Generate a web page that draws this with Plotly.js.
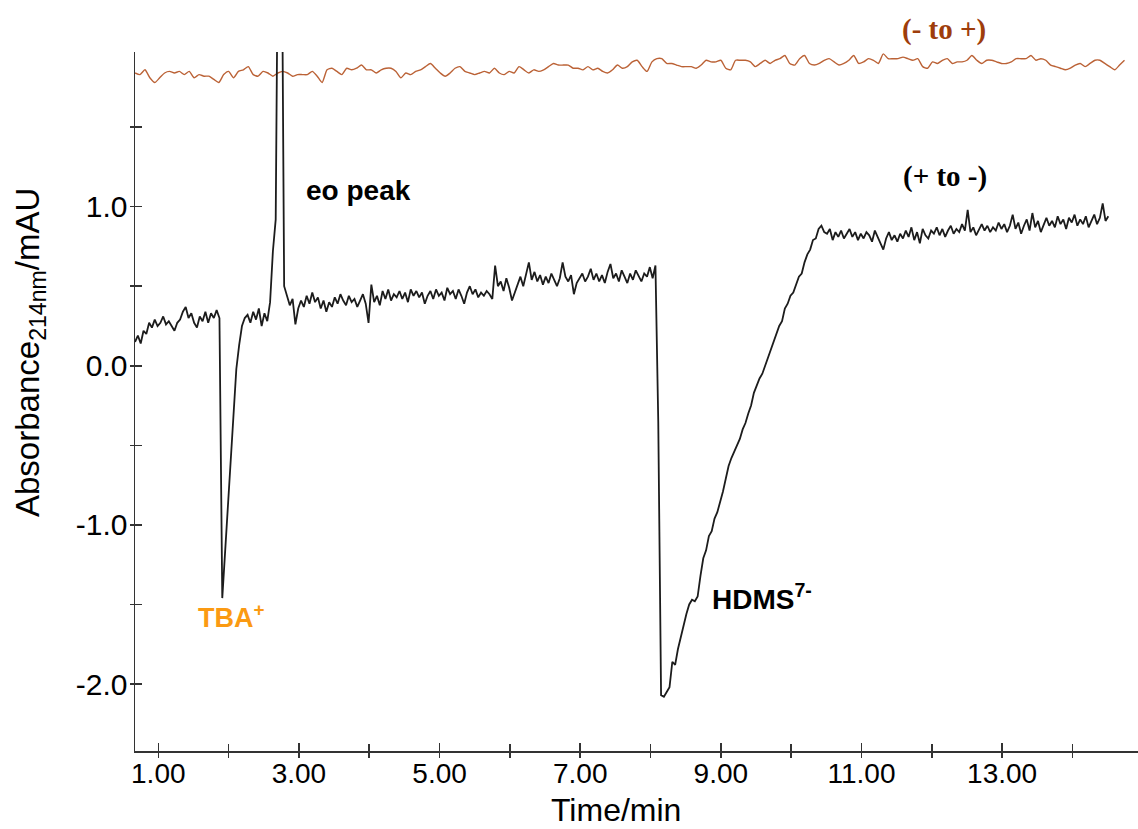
<!DOCTYPE html>
<html><head><meta charset="utf-8">
<script src="https://cdn.plot.ly/plotly-3.0.1.min.js"></script>
<style>html,body{margin:0;padding:0;background:#fff}#chart{width:1138px;height:829px}</style>
</head><body><div id="chart"></div>
<script>
// (+ to -) trace, sampled every 0.04 min from 0.67 min
const blackStart = 0.67, blackStep = 0.04;
const blackAbs = [
0.15,0.19,0.14,0.22,0.20,0.27,0.24,0.29,0.25,0.27,
0.31,0.26,0.28,0.25,0.22,0.27,0.29,0.34,0.37,0.30,
0.33,0.27,0.24,0.31,0.28,0.34,0.27,0.33,0.30,0.35,
0.30,-1.46,-1.17,-0.93,-0.63,-0.30,-0.02,0.13,0.25,0.30,
0.32,0.27,0.34,0.29,0.36,0.25,0.33,0.28,0.40,0.72,
0.92,3.20,3.20,0.50,0.44,0.38,0.42,0.26,0.36,0.41,
0.37,0.44,0.39,0.46,0.40,0.43,0.36,0.41,0.34,0.40,
0.37,0.43,0.39,0.45,0.41,0.38,0.44,0.40,0.42,0.37,
0.41,0.45,0.39,0.27,0.51,0.40,0.44,0.38,0.47,0.42,
0.48,0.41,0.45,0.43,0.47,0.42,0.46,0.40,0.48,0.44,
0.47,0.43,0.46,0.39,0.44,0.47,0.42,0.48,0.44,0.46,
0.41,0.49,0.45,0.47,0.42,0.48,0.44,0.39,0.46,0.50,
0.45,0.48,0.43,0.46,0.44,0.47,0.45,0.42,0.63,0.50,
0.53,0.47,0.55,0.49,0.41,0.46,0.52,0.56,0.50,0.58,
0.65,0.54,0.59,0.53,0.57,0.51,0.56,0.52,0.58,0.54,
0.50,0.55,0.65,0.56,0.53,0.57,0.45,0.52,0.55,0.58,
0.53,0.56,0.61,0.54,0.58,0.53,0.57,0.52,0.59,0.64,
0.55,0.58,0.53,0.60,0.56,0.52,0.58,0.54,0.60,0.56,
0.53,0.58,0.56,0.62,0.55,0.63,-0.35,-2.07,-2.08,-2.05,
-2.02,-1.86,-1.88,-1.78,-1.70,-1.62,-1.56,-1.50,-1.47,-1.48,
-1.45,-1.32,-1.21,-1.16,-1.07,-1.04,-0.96,-0.92,-0.86,-0.79,
-0.71,-0.63,-0.58,-0.54,-0.49,-0.46,-0.40,-0.36,-0.30,-0.25,
-0.17,-0.12,-0.08,-0.05,0.00,0.04,0.10,0.14,0.19,0.25,
0.28,0.36,0.39,0.44,0.46,0.51,0.56,0.58,0.65,0.70,
0.73,0.79,0.80,0.86,0.88,0.84,0.83,0.86,0.79,0.84,
0.81,0.85,0.80,0.83,0.86,0.81,0.84,0.79,0.83,0.80,
0.84,0.82,0.78,0.85,0.81,0.76,0.73,0.80,0.84,0.79,
0.82,0.78,0.83,0.80,0.85,0.81,0.87,0.79,0.84,0.77,
0.86,0.82,0.80,0.85,0.83,0.87,0.82,0.86,0.81,0.85,
0.88,0.83,0.86,0.84,0.89,0.85,0.98,0.84,0.87,0.82,
0.86,0.89,0.85,0.88,0.84,0.87,0.85,0.90,0.86,0.89,
0.84,0.88,0.95,0.86,0.90,0.83,0.88,0.92,0.85,0.96,
0.87,0.91,0.84,0.89,0.93,0.88,0.91,0.87,0.94,0.89,
0.92,0.86,0.93,0.90,0.95,0.88,0.92,0.89,0.94,0.87,
0.91,0.95,0.89,0.93,1.02,0.91,0.94
];
// (- to +) trace, sampled every 0.07 min from 0.67 min
const redStart = 0.67, redStep = 0.07;
const redAbs = [
1.84,1.83,1.86,1.81,1.78,1.81,1.84,1.85,1.84,1.85,
1.83,1.85,1.81,1.83,1.82,1.82,1.80,1.78,1.83,1.85,
1.81,1.85,1.86,1.88,1.83,1.82,1.85,1.84,1.82,1.84,
1.85,1.84,1.82,1.83,1.83,1.83,1.85,1.82,1.78,1.86,
1.87,1.85,1.83,1.87,1.86,1.87,1.89,1.86,1.86,1.84,
1.86,1.87,1.87,1.85,1.81,1.84,1.83,1.85,1.86,1.88,
1.90,1.87,1.84,1.82,1.84,1.87,1.88,1.85,1.84,1.83,
1.84,1.85,1.84,1.87,1.84,1.83,1.85,1.84,1.88,1.86,
1.84,1.86,1.85,1.86,1.88,1.90,1.89,1.89,1.89,1.87,
1.87,1.86,1.88,1.86,1.87,1.85,1.84,1.86,1.89,1.87,
1.88,1.91,1.92,1.88,1.85,1.91,1.93,1.93,1.90,1.90,
1.89,1.88,1.88,1.88,1.87,1.89,1.92,1.91,1.91,1.92,
1.87,1.86,1.92,1.92,1.92,1.91,1.88,1.90,1.92,1.90,
1.92,1.93,1.95,1.90,1.89,1.93,1.95,1.90,1.89,1.90,
1.92,1.93,1.91,1.89,1.90,1.92,1.95,1.90,1.91,1.93,
1.92,1.90,1.96,1.93,1.93,1.93,1.94,1.93,1.92,1.93,
1.88,1.87,1.91,1.90,1.92,1.93,1.90,1.91,1.91,1.92,
1.95,1.92,1.90,1.92,1.92,1.91,1.90,1.90,1.91,1.93,
1.93,1.93,1.95,1.92,1.93,1.92,1.89,1.88,1.87,1.86,
1.87,1.89,1.90,1.88,1.90,1.92,1.92,1.90,1.88,1.86,
1.89,1.92
];
const xTickVals = [1,3,5,7,9,11,13];
const xTickText = ['1.00','3.00','5.00','7.00','9.00','11.00','13.00'];
const xMinorVals = [2,4,6,8,10,12,14];
const yTickVals = [-2,-1,0,1];
const yTickText = ['-2.0','-1.0','0.0','1.0'];
const yMinorVals = [-1.5,-0.5,0.5,1.5];
const xRange = [0.669, 14.932];
const yRange = [-2.421, 1.972];

const SANS = 'Liberation Sans, Arial, sans-serif';
const SERIF = 'Liberation Serif, Times New Roman, serif';
const AX = '#333333';

const traces = [
  {type:'scatter', mode:'lines', x0:redStart, dx:redStep, y:redAbs,
   line:{color:'#bb6236', width:1.4, shape:'spline', smoothing:0.6}, hoverinfo:'skip'},
  {type:'scatter', mode:'lines', x0:blackStart, dx:blackStep, y:blackAbs,
   line:{color:'#1c1c1c', width:1.8}, hoverinfo:'skip'},
  {type:'scatter', mode:'lines', x:[], y:[], xaxis:'x2', yaxis:'y2', hoverinfo:'skip'}
];

const layout = {
  width:1138, height:829,
  margin:{l:135, r:0, t:52, b:78},
  paper_bgcolor:'#ffffff', plot_bgcolor:'#ffffff',
  showlegend:false,
  font:{family:SANS, color:'#000'},
  xaxis:{
    range:xRange, tickmode:'array', tickvals:xTickVals, ticktext:xTickText,
    ticks:'inside', ticklen:8, tickwidth:1.5, tickcolor:AX,
    showline:true, linecolor:AX, linewidth:1.5, showgrid:false, zeroline:false,
    tickfont:{family:SANS, size:28, color:'#000'}, ticklabelstandoff:-3,
    minor:{tickmode:'array', tickvals:xMinorVals, ticks:'inside', ticklen:7, tickwidth:1.5, tickcolor:AX, showgrid:false},
    automargin:false, fixedrange:true
  },
  xaxis2:{
    overlaying:'x', anchor:'y', side:'bottom', range:xRange,
    tickmode:'array', tickvals:xTickVals.concat(xMinorVals),
    ticks:'outside', ticklen:6, tickwidth:1.5, tickcolor:AX,
    showticklabels:false, showline:false, showgrid:false, zeroline:false, fixedrange:true
  },
  yaxis:{
    range:yRange, tickmode:'array', tickvals:yTickVals, ticktext:yTickText,
    ticks:'inside', ticklen:7, tickwidth:1.5, tickcolor:AX,
    showline:true, linecolor:AX, linewidth:1.5, showgrid:false, zeroline:false,
    tickfont:{family:SANS, size:30, color:'#000'},
    minor:{tickmode:'array', tickvals:yMinorVals, ticks:'inside', ticklen:7, tickwidth:1.5, tickcolor:AX, showgrid:false},
    automargin:false, fixedrange:true
  },
  yaxis2:{
    overlaying:'y', anchor:'x', side:'left', range:yRange,
    tickmode:'array', tickvals:yTickVals.concat(yMinorVals),
    ticks:'outside', ticklen:4, tickwidth:1.5, tickcolor:AX,
    showticklabels:false, showline:false, showgrid:false, zeroline:false, fixedrange:true
  },
  annotations:[
    {text:'Time/min', xref:'paper', yref:'paper', x:0.48, y:-0.0845,
     showarrow:false, xanchor:'center', yanchor:'middle',
     font:{family:SANS, size:32, color:'#000'}},
    {text:'Absorbance<sub>214nm</sub>/mAU', xref:'paper', yref:'paper', x:-0.1047, y:0.5708,
     textangle:-90, showarrow:false, xanchor:'center', yanchor:'middle',
     font:{family:SANS, size:33, color:'#000'}},
    {text:'<b>eo peak</b>', xref:'x', yref:'y', x:3.844, y:1.102, showarrow:false,
     xanchor:'center', yanchor:'middle',
     font:{family:SANS, size:28, color:'#000'}},
    {text:'<b>TBA<sup>+</sup></b>', xref:'x', yref:'y', x:2.048, y:-1.571, showarrow:false,
     xanchor:'center', yanchor:'middle',
     font:{family:SANS, size:27, color:'#fb9a12'}},
    {text:'<b>HDMS<sup>7-</sup></b>', xref:'x', yref:'y', x:9.58, y:-1.453, showarrow:false,
     xanchor:'center', yanchor:'middle',
     font:{family:SANS, size:28, color:'#000'}},
    {text:'<b>(+ to -)</b>', xref:'x', yref:'y', x:12.19, y:1.189, showarrow:false,
     xanchor:'center', yanchor:'middle',
     font:{family:SERIF, size:29, color:'#000'}},
    {text:'<b>(- to +)</b>', xref:'x', yref:'paper', x:12.18, y:1.0315, showarrow:false,
     xanchor:'center', yanchor:'middle',
     font:{family:SERIF, size:29, color:'#9e3d0b'}}
  ]
};

Plotly.newPlot('chart', traces, layout, {displayModeBar:false, staticPlot:true});
</script>
</body></html>
